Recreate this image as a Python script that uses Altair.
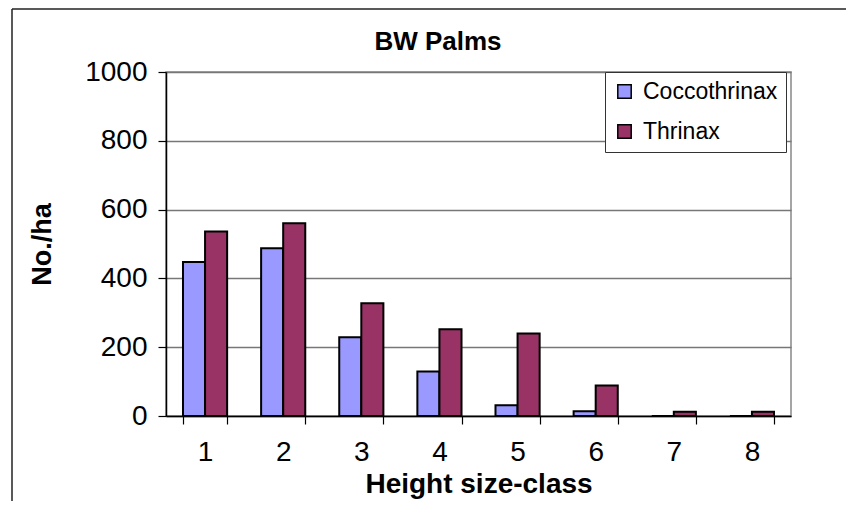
import altair as alt
import pandas as pd

chart_title = "BW Palms"
categories = ["1", "2", "3", "4", "5", "6", "7", "8"]
series_names = ["Coccothrinax", "Thrinax"]
coccothrinax = [448, 488, 229, 129, 31, 14, 0, 0]
thrinax = [536, 560, 328, 252, 240, 89, 12, 12]
y_ticks = [0, 200, 400, 600, 800, 1000]
colors = ["#9999FF", "#993366"]

rows = []
for c, a, b in zip(categories, coccothrinax, thrinax):
    rows.append({"cls": c, "species": series_names[0], "value": a})
    rows.append({"cls": c, "species": series_names[1], "value": b})
df = pd.DataFrame(rows)

FONT = "Liberation Sans"

bars = alt.Chart(df).mark_bar(stroke="black", strokeWidth=2).encode(
    x=alt.X("cls:N", sort=categories,
            scale=alt.Scale(paddingInner=0.435, paddingOuter=0.2175),
            axis=alt.Axis(title="Height size-class", labelAngle=0, tickBand="extent",
                          tickSize=8, tickColor="black", domainColor="black",
                          domainWidth=1.5, tickWidth=1.2,
                          labelFontSize=28, labelPadding=14, labelColor="black",
                          titleFontSize=28, titleFontWeight="bold", titlePadding=4,
                          titleColor="black", grid=False)),
    xOffset=alt.XOffset("species:N", sort=series_names,
                        scale=alt.Scale(paddingInner=0, paddingOuter=0)),
    y=alt.Y("value:Q",
            scale=alt.Scale(domain=[0, 1000], nice=False),
            axis=alt.Axis(title="No./ha", values=y_ticks, format="d", tickSize=8,
                          tickColor="black", domainColor="black", domainWidth=1.5,
                          tickWidth=1.2, labelFontSize=28, labelPadding=11,
                          labelColor="black", titleFontSize=27, titleFontWeight="bold",
                          titlePadding=28, titleColor="black", grid=True,
                          gridColor="#777777", gridWidth=1.4)),
    color=alt.Color("species:N", sort=series_names,
                    scale=alt.Scale(domain=series_names, range=colors),
                    legend=alt.Legend(title=None, orient="none", legendX=439, legendY=0,
                                      symbolType="square", symbolSize=180,
                                      symbolStrokeColor="black", symbolStrokeWidth=1.5,
                                      symbolOpacity=1,
                                      labelFontSize=23, labelColor="black", labelOffset=7,
                                      rowPadding=16, padding=8, strokeColor="#333333",
                                      fillColor="white", labelLimit=300)),
)

one = pd.DataFrame({"t": [chart_title]})

left_edge = alt.Chart(one).mark_rule(stroke="#222222", strokeWidth=1.5, clip=False).encode(
    x=alt.value(-154), y=alt.value(-63), y2=alt.value(600)
)
top_edge = alt.Chart(one).mark_rule(stroke="#222222", strokeWidth=1.5, clip=False).encode(
    x=alt.value(-154), x2=alt.value(720), y=alt.value(-63)
)
title_text = alt.Chart(one).mark_text(
    font=FONT, fontSize=26, fontWeight="bold", color="black",
    align="center", baseline="alphabetic", clip=False
).encode(
    text="t:N", x=alt.value(272), y=alt.value(-22)
)

chart = alt.layer(left_edge, top_edge, bars, title_text).properties(
    width=625, height=344,
    autosize=alt.AutoSizeParams(type="none"),
    padding={"left": 158, "top": 64, "right": 55, "bottom": 85},
).configure(font=FONT).configure_view(stroke="#888888", strokeWidth=1.5)

chart.save("out.html", embed_options={"renderer": "svg", "actions": False})
